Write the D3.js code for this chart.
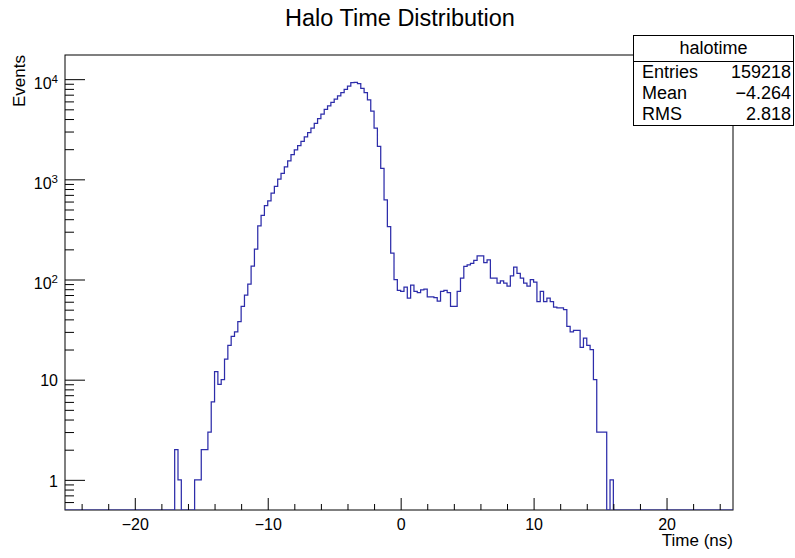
<!DOCTYPE html>
<html>
<head>
<meta charset="utf-8">
<script src="https://cdn.jsdelivr.net/npm/d3@7"></script>
<style>
  html, body { margin: 0; padding: 0; background: #fff; }
  svg { display: block; font-family: "Liberation Sans", Arial, Helvetica, sans-serif; }
</style>
</head>
<body>
<svg id="chart" width="795" height="558"></svg>
<script>
// Histogram of halo timing: 0.25 ns bins, counts listed from the first filled bin.
const binStart = -17;
const binWidth = 0.25;
const counts = [
  2, 1, 0, 0, 0, 0, 1, 1, 2, 2, 3, 6,                 // -17.00 .. -14.25
  12, 9, 10, 16, 22, 27, 30, 38,                      // -14.00 .. -12.25
  54, 70, 90, 136, 201, 344, 438, 547,                // -12.00 .. -10.25
  610, 728, 849, 1005, 1150, 1330, 1530, 1760,        // -10.00 .. -8.25
  1970, 2170, 2400, 2650, 2930, 3250, 3620, 4030,     // -8.00 .. -6.25
  4480, 4990, 5420, 5850, 6310, 6810, 7350, 7930,     // -6.00 .. -4.25
  8510, 9230, 9300, 9020, 8110, 7320, 6200, 4800,     // -4.00 .. -2.25
  3240, 2130, 1290, 624, 337, 183, 100,               // -2.00 .. -0.50
  78, 76, 84, 65, 88, 76, 74, 79, 80, 67,             // -0.25 .. 2.00
  67, 66, 61, 76, 78, 74, 54, 54, 76, 103,            // 2.25 .. 4.50
  135, 140, 145, 155, 172, 172, 147, 157, 103, 103,   // 4.75 .. 7.00
  92, 97, 92, 86, 109, 133, 115, 103, 92, 86,         // 7.25 .. 9.50
  100, 94, 60, 76, 60, 65, 60, 53, 52, 52,            // 9.75 .. 12.00
  50, 34, 30, 31, 31, 21, 26, 22, 20, 10,             // 12.25 .. 14.50
  3, 3, 3, 0, 1                                       // 14.75 .. 15.75
];

const xDomain = [-25.25, 25];
const yDomain = [0.5, 17430];
const xMajorTicks = [-20, -10, 0, 10, 20];
const xMinorTicks = [-24, -22, -18, -16, -14, -12, -8, -6, -4, -2, 2, 4, 6, 8, 12, 14, 16, 18, 22, 24];
const yMajorTicks = [1, 10, 100, 1000, 10000];
const yMinorTicks = [0.6, 0.7, 0.8, 0.9,
  2, 3, 4, 5, 6, 7, 8, 9,
  20, 30, 40, 50, 60, 70, 80, 90,
  200, 300, 400, 500, 600, 700, 800, 900,
  2000, 3000, 4000, 5000, 6000, 7000, 8000, 9000];

const titleText = "Halo Time Distribution";
const xTitle = "Time (ns)";
const yTitle = "Events";
const statsName = "halotime";
const statsLabels = ["Entries", "Mean", "RMS"];
const statsValues = ["159218", "\u22124.264", "2.818"];

const frame = { left: 65, right: 733, top: 55, bottom: 510 };

const svg = d3.select("#chart");

const x = d3.scaleLinear().domain(xDomain).range([frame.left, frame.right]);
const y = d3.scaleLog().domain(yDomain).range([frame.bottom, frame.top]);

// Title
svg.append("text")
  .attr("x", 400).attr("y", 26)
  .attr("text-anchor", "middle")
  .attr("font-size", 23.5)
  .attr("fill", "#000")
  .text(titleText);

// Frame box
svg.append("rect")
  .attr("x", frame.left).attr("y", frame.top)
  .attr("width", frame.right - frame.left)
  .attr("height", frame.bottom - frame.top)
  .attr("fill", "none").attr("stroke", "#000").attr("stroke-width", 1);

// Histogram outline
const pts = [[xDomain[0], 0]];
counts.forEach((c, i) => pts.push([binStart + i * binWidth, c]));
pts.push([binStart + counts.length * binWidth, 0]);
pts.push([xDomain[1], 0]);

svg.append("clipPath").attr("id", "frameClip")
  .append("rect")
  .attr("x", frame.left).attr("y", frame.top)
  .attr("width", frame.right - frame.left)
  .attr("height", frame.bottom - frame.top);

const line = d3.line()
  .x(d => x(d[0]))
  .y(d => d[1] > 0 ? y(d[1]) : frame.bottom)
  .curve(d3.curveStepAfter);

svg.append("path")
  .attr("clip-path", "url(#frameClip)")
  .attr("d", line(pts))
  .attr("fill", "none")
  .attr("stroke", "#2d2daa")
  .attr("stroke-width", 1.25);

// X axis
const xAxisMajor = d3.axisBottom(x).tickValues(xMajorTicks).tickSize(-12).tickPadding(8.5)
  .tickFormat(d => d < 0 ? "\u2212" + Math.abs(d) : String(d));
const xAxisMinor = d3.axisBottom(x).tickValues(xMinorTicks).tickSize(-6).tickFormat(() => "");

svg.append("g").attr("transform", `translate(0,${frame.bottom})`).call(xAxisMinor)
  .call(g => g.select(".domain").remove())
  .call(g => g.selectAll("line").attr("stroke", "#000"));
svg.append("g").attr("transform", `translate(0,${frame.bottom})`).call(xAxisMajor)
  .call(g => g.select(".domain").remove())
  .call(g => g.selectAll("line").attr("stroke", "#000"))
  .call(g => g.selectAll("text").attr("font-size", 16).attr("fill", "#000")
    .attr("font-family", "Liberation Sans, Arial, sans-serif"));

// Y axis
const yAxisMajor = d3.axisLeft(y).tickValues(yMajorTicks).tickSize(-20).tickFormat(() => "");
const yAxisMinor = d3.axisLeft(y).tickValues(yMinorTicks).tickSize(-9).tickFormat(() => "");

svg.append("g").attr("transform", `translate(${frame.left},0)`).call(yAxisMinor)
  .call(g => g.select(".domain").remove())
  .call(g => g.selectAll("line").attr("stroke", "#000"));
svg.append("g").attr("transform", `translate(${frame.left},0)`).call(yAxisMajor)
  .call(g => g.select(".domain").remove())
  .call(g => g.selectAll("line").attr("stroke", "#000"));

// Y tick labels: plain for 1 and 10, power notation above
const yLabels = svg.append("g")
  .attr("font-size", 16).attr("fill", "#000").attr("text-anchor", "end");
yMajorTicks.forEach(v => {
  const e = Math.round(Math.log10(v));
  const t = yLabels.append("text").attr("x", 58);
  if (e < 2) {
    t.attr("y", y(v) + 6.7).text(String(v));
  } else {
    t.attr("y", y(v) + 9.5);
    t.append("tspan").text("10");
    t.append("tspan").attr("font-size", 11.5).attr("dy", -6).text(String(e));
  }
});

// Axis titles
svg.append("text")
  .attr("x", frame.right).attr("y", 546)
  .attr("text-anchor", "end").attr("font-size", 17).attr("fill", "#000")
  .text(xTitle);
svg.append("text")
  .attr("transform", `translate(25,${frame.top}) rotate(-90)`)
  .attr("text-anchor", "end").attr("font-size", 17).attr("fill", "#000")
  .text(yTitle);

// Statistics box
const box = { x: 633.5, y: 35.5, w: 160, h: 90, header: 61.5 };
svg.append("rect")
  .attr("x", box.x).attr("y", box.y).attr("width", box.w).attr("height", box.h)
  .attr("fill", "#fff").attr("stroke", "#000").attr("stroke-width", 1);
svg.append("line")
  .attr("x1", box.x).attr("x2", box.x + box.w)
  .attr("y1", box.header).attr("y2", box.header)
  .attr("stroke", "#000").attr("stroke-width", 1);
svg.append("text")
  .attr("x", box.x + box.w / 2).attr("y", 54)
  .attr("text-anchor", "middle").attr("font-size", 18).attr("fill", "#000")
  .text(statsName);
const rowY = [78, 99, 119.5];
statsLabels.forEach((lab, i) => {
  svg.append("text").attr("x", 642).attr("y", rowY[i])
    .attr("font-size", 18).attr("fill", "#000").text(lab);
  svg.append("text").attr("x", 791).attr("y", rowY[i])
    .attr("text-anchor", "end").attr("font-size", 18).attr("fill", "#000").text(statsValues[i]);
});
</script>
</body>
</html>
